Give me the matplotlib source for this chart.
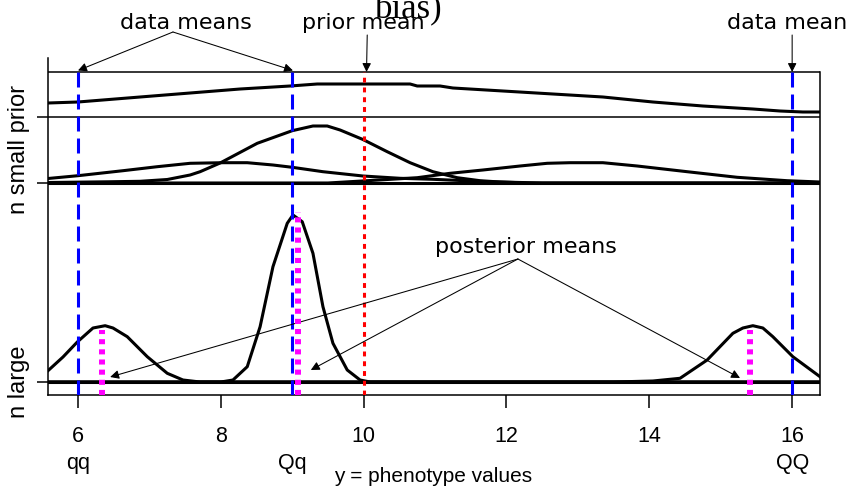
import matplotlib
matplotlib.use("Agg")
import matplotlib.pyplot as plt
from matplotlib.transforms import blended_transform_factory

# genotype means, prior mean and where the posterior means end up
genotypes = ["qq", "Qq", "QQ"]
data_means = [6, 9, 16]
prior_mean = 10
post_means = [6.34, 9.08, 15.41]
post_tops = [0.52, 1.70, 0.52]

xticks = [6, 8, 10, 12, 14, 16]

# prior density (top strip)
prior_x = [5.58, 6.00, 6.87, 7.57, 8.27, 8.97, 9.35, 10.65, 10.75, 11.07,
           11.25, 11.95, 12.65, 13.35, 14.05, 14.75, 15.45, 15.83, 16.15, 16.39]
prior_y = [0.14, 0.15, 0.20, 0.24, 0.28, 0.31, 0.33, 0.33, 0.31, 0.31,
           0.29, 0.26, 0.23, 0.20, 0.15, 0.11, 0.08, 0.06, 0.05, 0.05]

# posteriors with small n
small_qq_x = [5.58, 6.00, 6.63, 7.11, 7.57, 8.03, 8.37, 8.73, 9.00, 9.43,
              9.99, 10.51, 10.97, 11.73, 12.50, 16.39]
small_qq_y = [0.045, 0.073, 0.123, 0.163, 0.197, 0.203, 0.203, 0.18, 0.157, 0.113,
              0.07, 0.047, 0.037, 0.013, 0.0, 0.0]
small_Qq_x = [5.58, 6.41, 6.87, 7.25, 7.57, 7.71, 7.99, 8.51, 9.00, 9.29, 9.49,
              9.67, 9.99, 10.33, 10.65, 10.97, 11.31, 11.63, 11.91, 12.30, 16.39]
small_Qq_y = [0.005, 0.012, 0.017, 0.035, 0.08, 0.113, 0.20, 0.397, 0.523, 0.57, 0.57,
              0.53, 0.435, 0.313, 0.203, 0.113, 0.053, 0.023, 0.01, 0.0, 0.0]
small_QQ_x = [5.58, 9.50, 10.05, 10.75, 11.21, 11.67, 12.19, 12.57, 12.89, 13.35,
              13.83, 14.53, 15.23, 15.93, 16.39]
small_QQ_y = [0.0, 0.0, 0.023, 0.053, 0.097, 0.13, 0.17, 0.197, 0.203, 0.203,
              0.17, 0.113, 0.057, 0.023, 0.01]

# posteriors with large n
large_qq_x = [5.58, 5.79, 5.99, 6.21, 6.38, 6.49, 6.69, 6.97, 7.25, 7.47, 7.71, 16.39]
large_qq_y = [0.113, 0.25, 0.40, 0.54, 0.563, 0.54, 0.453, 0.253, 0.087, 0.02, 0.0, 0.0]
large_Qq_x = [5.58, 8.00, 8.17, 8.37, 8.55, 8.73, 8.93, 9.01, 9.14, 9.29, 9.43,
              9.57, 9.77, 9.95, 10.09, 16.39]
large_Qq_y = [0.0, 0.0, 0.02, 0.153, 0.553, 1.153, 1.587, 1.67, 1.603, 1.287, 0.753,
              0.387, 0.12, 0.02, 0.0, 0.0]
large_QQ_x = [5.58, 13.50, 14.05, 14.43, 14.81, 15.17, 15.31, 15.45, 15.59, 15.73,
              16.01, 16.39]
large_QQ_y = [0.0, 0.0, 0.01, 0.037, 0.22, 0.487, 0.54, 0.563, 0.54, 0.453,
              0.253, 0.053]

# vertical offsets of the three strips
base_large = 0.0
base_small = 1.99
base_prior = 2.65
box_top = 3.10
xmin, xmax = 5.58, 16.39
ymin, ymax = -0.13, 3.24

fig = plt.figure(figsize=(8.52, 4.87), dpi=100)
ax = fig.add_axes([48 / 852, 92 / 487, 772 / 852, 337 / 487])

# strip baselines and box
ax.axhline(base_large, color="black", lw=2.2, zorder=2)
ax.axhline(base_small, color="black", lw=2.2, zorder=2)
ax.axhline(base_prior, color="black", lw=1.1, zorder=2)
ax.axhline(box_top, color="black", lw=1.1, zorder=2)

# density curves
ax.plot(prior_x, [base_prior + v for v in prior_y], color="black", lw=2.2, zorder=2)
for xs, ys in [(small_qq_x, small_qq_y), (small_Qq_x, small_Qq_y), (small_QQ_x, small_QQ_y)]:
    ax.plot(xs, [base_small + v for v in ys], color="black", lw=2.2, zorder=2)
for xs, ys in [(large_qq_x, large_qq_y), (large_Qq_x, large_Qq_y), (large_QQ_x, large_QQ_y)]:
    ax.plot(xs, [base_large + v for v in ys], color="black", lw=2.2, zorder=2)

# data means (blue), prior mean (red), posterior means (magenta)
for m in data_means:
    ax.plot([m, m], [ymin, box_top], color="#0000FF", lw=2.2, dashes=(4.9, 2.3), zorder=3)
ax.plot([prior_mean, prior_mean], [ymin, box_top], color="#FF0000", lw=2.2,
        dashes=(1.6, 1.6), zorder=3)
for m, top in zip(post_means, post_tops):
    ax.plot([m, m], [ymin, top], color="#FF00FF", lw=4.3, dashes=(0.85, 0.85),
            solid_capstyle="butt", dash_capstyle="butt", zorder=4)

ax.set_xlim(xmin, xmax)
ax.set_ylim(ymin, ymax)
ax.spines["top"].set_visible(False)
ax.spines["right"].set_bounds(ymin, box_top)
for s in ["left", "right", "bottom"]:
    ax.spines[s].set_linewidth(1.1)

ax.set_xticks(xticks)
ax.set_xticklabels([str(t) for t in xticks], fontsize=15.5, fontfamily="Liberation Sans")
ax.tick_params(axis="x", length=9.4, width=1.1, pad=13)
ax.set_yticks([base_large, base_small, base_prior])
ax.set_yticklabels([])
ax.tick_params(axis="y", length=8, width=1.1)

# genotype names under the ticks
trans = blended_transform_factory(ax.transData, fig.transFigure)
for m, g in zip(data_means, genotypes):
    ax.text(m, 18 / 487, g, transform=trans, ha="center", va="baseline",
            fontsize=15.5, fontfamily="Liberation Sans")

fig.text(433.5 / 852, 5 / 487, "y = phenotype values", ha="center", va="baseline",
         fontsize=15, fontfamily="Liberation Sans")
fig.text(19 / 852, 1 - 150 / 487, "n small prior", rotation=90, ha="center",
         va="center", fontsize=17, fontfamily="Liberation Sans")
fig.text(19 / 852, 1 - 382 / 487, "n large", rotation=90, ha="center",
         va="center", fontsize=17, fontfamily="Liberation Sans")
fig.text(375 / 852, 1 - 18.5 / 487, "bias)", ha="left", va="baseline",
         fontsize=25, fontfamily="Liberation Serif")

# labels with arrows
arrow = dict(arrowstyle="-|>", color="black", lw=0.75, mutation_scale=13,
             shrinkA=0, shrinkB=0)
ax.text(7.51, 3.53, "data means", ha="center", va="baseline", fontsize=16)
for tip in [(6.0, 3.115), (9.01, 3.115)]:
    ax.annotate("", xy=tip, xytext=(7.33, 3.50), arrowprops=arrow, annotation_clip=False)

ax.text(10.0, 3.53, "prior mean", ha="center", va="baseline", fontsize=16)
ax.annotate("", xy=(10.04, 3.10), xytext=(10.05, 3.47), arrowprops=arrow,
            annotation_clip=False)

ax.text(15.93, 3.53, "data mean", ha="center", va="baseline", fontsize=16)
ax.annotate("", xy=(16.0, 3.10), xytext=(16.0, 3.47), arrowprops=arrow,
            annotation_clip=False)

ax.text(12.27, 1.29, "posterior means", ha="center", va="baseline", fontsize=16)
for tip in [(6.45, 0.05), (9.26, 0.12), (15.27, 0.04)]:
    ax.annotate("", xy=tip, xytext=(12.16, 1.23), arrowprops=arrow, annotation_clip=False)

fig.savefig("out.png", dpi=100)
